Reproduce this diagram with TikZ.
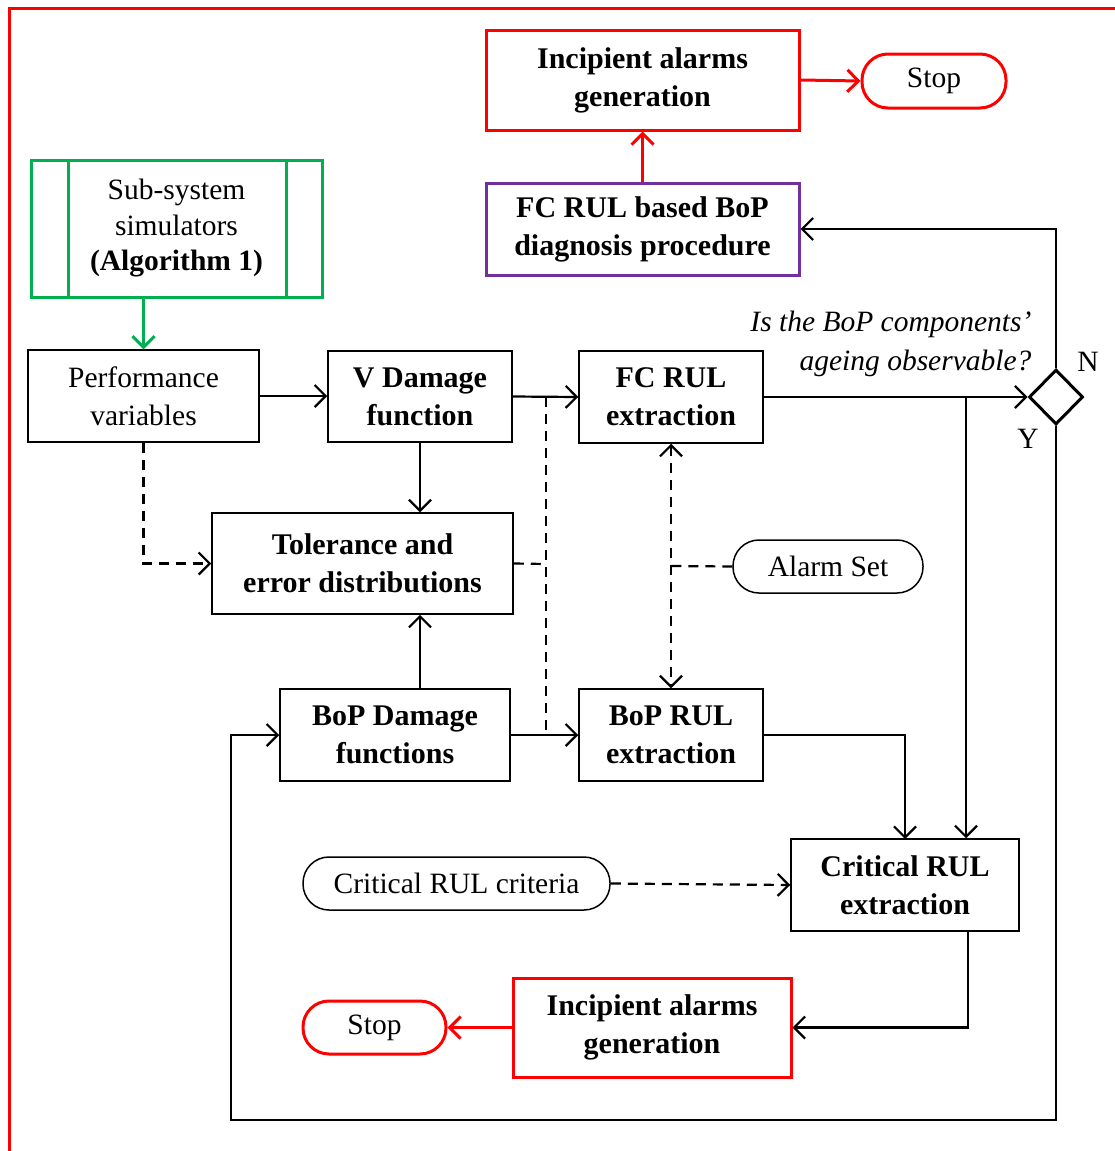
\documentclass[tikz,border=0pt]{standalone}
\usepackage{fontspec}
\setmainfont{Liberation Serif}
\usetikzlibrary{arrows.meta,shapes.geometric}
\definecolor{alarmred}{RGB}{255,0,0}
\definecolor{simgreen}{RGB}{0,176,80}
\definecolor{diagpurple}{RGB}{112,48,160}
\tikzset{
  barb/.tip={Straight Barb[length=11pt,width=22pt,line width=2.2pt]},
  thickbarb/.tip={Straight Barb[length=11pt,width=22pt,line width=3pt]},
}
\begin{document}
\begin{tikzpicture}[x=1pt,y=-1pt,
  font=\fontsize{29.5}{38}\selectfont,
  box/.style={draw,line width=1.5pt,inner sep=0pt,align=center},
  bbox/.style={box,font=\fontsize{30}{38}\selectfont\bfseries},
  redbox/.style={bbox,draw=alarmred,line width=3pt},
  term/.style={box,rounded corners=26pt},
  redterm/.style={term,draw=alarmred,line width=3pt},
  flow/.style={line width=2.2pt,-barb},
  dflow/.style={flow,dash pattern=on 10pt off 7pt},
  dline/.style={line width=2.2pt,dash pattern=on 10pt off 7pt},
  redflow/.style={line width=3pt,alarmred,-thickbarb},
  greenflow/.style={line width=3pt,simgreen,-thickbarb},
]
\useasboundingbox (0,0) rectangle (1115,1151);

% outer frame
\draw[alarmred,line width=3pt] (9,1151) -- (9,8) -- (1115,8);

% top branch
\node[redbox,minimum width=313pt,minimum height=100pt] (ialT) at (642.5,80) {\raisebox{-2pt}{Incipient alarms}\\\raisebox{-2pt}{generation}};
\node[redterm,minimum width=144pt,minimum height=54pt] (stopT) at (934,81) {\raisebox{-3pt}{Stop}};
\node[box,draw=diagpurple,line width=3pt,minimum width=313pt,minimum height=92pt,font=\fontsize{30}{38}\selectfont\bfseries] (diag) at (642.5,229) {\raisebox{-2pt}{FC RUL based BoP}\\\raisebox{-2pt}{diagnosis procedure}};

% simulators
\node[box,draw=simgreen,line width=3pt,minimum width=291pt,minimum height=137pt,font=\fontsize{29.5}{35.5}\selectfont] (sim) at (176.5,228.5) {Sub-system\\simulators\\\textbf{(Algorithm 1)}};
\draw[simgreen,line width=3pt] (68,160) -- (68,297) (286,160) -- (286,297);

% main blocks
\node[box,minimum width=231pt,minimum height=92pt] (perf) at (143.5,396) {Performance\\variables};
\node[bbox,minimum width=184pt,minimum height=91pt] (vdam) at (420,396.5) {V Damage\\function};
\node[bbox,minimum width=184pt,minimum height=92pt] (fcrul) at (671,397) {FC RUL\\extraction};
\node[bbox,minimum width=301pt,minimum height=101pt] (tol) at (362.5,563.5) {Tolerance and\\error distributions};
\node[bbox,minimum width=230pt,minimum height=92pt] (bopdam) at (395,735) {BoP Damage\\functions};
\node[bbox,minimum width=184pt,minimum height=92pt] (boprul) at (671,735) {BoP RUL\\extraction};
\node[term,minimum width=190pt,minimum height=53pt] (alarm) at (828,566.5) {\raisebox{-2pt}{Alarm Set}};
\node[bbox,minimum width=228pt,minimum height=92pt] (crit) at (905,885) {Critical RUL\\extraction};
\node[term,minimum width=307pt,minimum height=53pt] (criteria) at (456.5,883.5) {\raisebox{-3pt}{Critical RUL criteria}};
\node[redbox,minimum width=278pt,minimum height=99pt] (ialB) at (652,1027.5) {\raisebox{-2pt}{Incipient alarms}\\\raisebox{-2pt}{generation}};
\node[redterm,minimum width=143pt,minimum height=53pt] (stopB) at (374.5,1027.5) {\raisebox{-2pt}{Stop}};

% decision
\node[diamond,draw,line width=3pt,minimum width=54pt,minimum height=55pt,inner sep=0pt] (dec) at (1056,397) {};
\node[anchor=east,align=right,font=\fontsize{29.5}{39}\selectfont\itshape] (ques) at (1035,344) {Is the BoP components’\\ageing observable?};
\node (nlab) at (1088,362) {N};
\node (ylab) at (1028,439) {Y};

% junction points
\coordinate (jv) at (546,397);
\coordinate (jb) at (546,735);
\coordinate (ja) at (671,566);
\coordinate (jc) at (966,397);

% red and green flows
\draw[redflow] (ialT.east) -- (stopT.west);
\draw[redflow] (diag.north) -- (ialT.south);
\draw[redflow] (ialB.west) -- (stopB.east);
\draw[greenflow] (sim.south -| perf.north) -- (perf.north);

% solid flows
\draw[flow] (perf.east |- 0,396) -- (vdam.west |- 0,396);
\draw[flow] (vdam.east) -- (fcrul.west);
\draw[flow] (vdam.south) -- (vdam.south |- tol.north);
\draw[flow] (bopdam.north -| vdam.south) -- (vdam.south |- tol.south);
\draw[flow] (bopdam.east) -- (boprul.west);
\draw[flow] (fcrul.east) -- (dec.west);
\draw[flow] (jc) -- (jc |- crit.north);
\draw[flow] (boprul.east) -| (905,839);
\draw[flow] (968,931) |- (ialB.east);
\draw[flow] (dec.north) |- (diag.east);
\draw[flow] (dec.south) |- (231,1120) |- (bopdam.west);

% dashed flows
\draw[dflow] (perf.south) |- (tol.west);
\draw[dline] (tol.east) -- (546,564);
\draw[dline] (jv) -- (jb);
\draw[dline,barb-barb] (fcrul.south) -- (boprul.north);
\draw[dline] (alarm.west) -- (ja);
\draw[dflow] (criteria.east) -- (crit.west);
\end{tikzpicture}
\end{document}
